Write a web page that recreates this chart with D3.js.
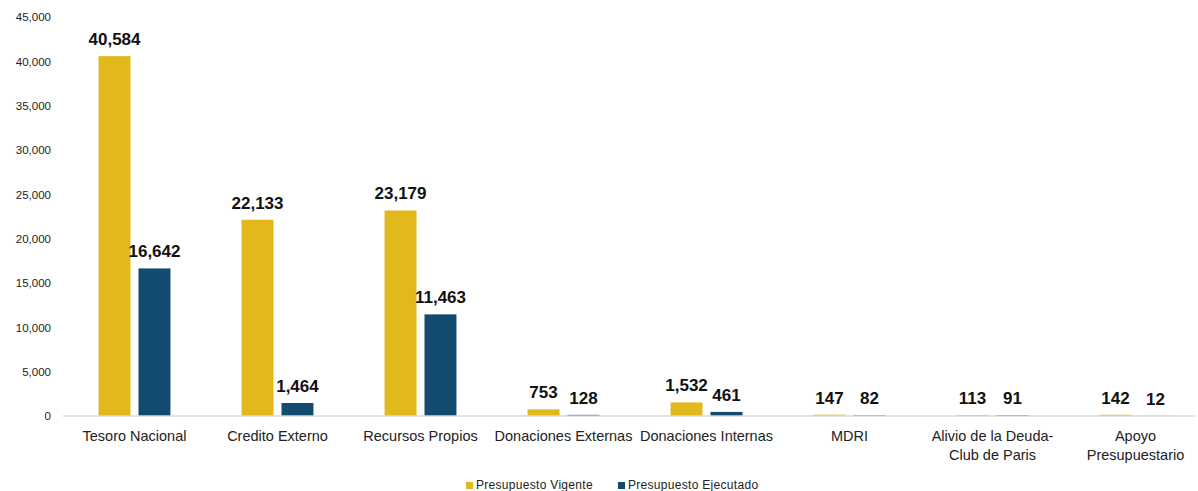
<!DOCTYPE html>
<html>
<head>
<meta charset="utf-8">
<script src="https://cdn.jsdelivr.net/npm/d3@7"></script>
<style>
  body { margin: 0; background: #fff; }
  text { font-family: "Liberation Sans", Arial, sans-serif; }
</style>
</head>
<body>
<div id="chart"></div>
<script>
// data
var categories = ["Tesoro Nacional", "Credito Externo", "Recursos Propios", "Donaciones Externas",
                  "Donaciones Internas", "MDRI", "Alivio de la Deuda-\nClub de Paris", "Apoyo\nPresupuestario"]
var series = ["Presupuesto Vigente", "Presupuesto Ejecutado"]
var vigente = [40584, 22133, 23179, 753, 1532, 147, 113, 142]
var ejecutado = [16642, 1464, 11463, 128, 461, 82, 91, 12]
var yTicks = [0, 5000, 10000, 15000, 20000, 25000, 30000, 35000, 40000, 45000]
var colors = ["#E1B91C", "#124B6E"]

var width = 1198, height = 491
var margins = {top: 17, right: 3, bottom: 75, left: 63}

var svg = d3.select("#chart").append("svg")
            .attr("width", width)
            .attr("height", height)

// category bands run a little past the right edge, like the original
var scalex = d3.scaleBand()
               .domain(categories)
               .range([margins.left, margins.left + 8 * 143])

var inner = d3.scaleBand()
              .domain(series)
              .range([0, scalex.bandwidth()])
              .paddingInner(0.2)
              .paddingOuter(0.89)

var scaley = d3.scaleLinear()
               .domain([0, 45000])
               .range([height - margins.bottom, margins.top])

var fmt = d3.format(",")

// y axis, no line, only labels
var yaxis = svg.append("g")
   .attr("transform", "translate(" + margins.left + ",0)")
   .call(d3.axisLeft(scaley).tickValues(yTicks).tickFormat(fmt).tickSize(0).tickPadding(12))
yaxis.select(".domain").remove()
yaxis.selectAll("text").attr("font-size", "11.5px").attr("fill", "#222")
     .style("font-family", "Liberation Sans, Arial, sans-serif")

var rows = categories.map(function (c, i) {
   return {cat: c, values: [vigente[i], ejecutado[i]]}
})

var groups = svg.selectAll("g.cat").data(rows)
   .enter().append("g")
   .attr("class", "cat")
   .attr("transform", function (d) { return "translate(" + scalex(d.cat) + ",0)" })

groups.selectAll("rect").data(function (d) {
      return d.values.map(function (v, j) { return {s: series[j], v: v, j: j} })
   })
   .enter().append("rect")
   .attr("x", function (d) { return inner(d.s) })
   .attr("width", inner.bandwidth())
   .attr("y", function (d) { return scaley(d.v) })
   .attr("height", function (d) { return scaley(0) - scaley(d.v) })
   .attr("fill", function (d) { return colors[d.j] })

groups.selectAll("text.val").data(function (d) {
      return d.values.map(function (v, j) { return {s: series[j], v: v} })
   })
   .enter().append("text")
   .attr("class", "val")
   .attr("x", function (d) { return inner(d.s) + inner.bandwidth() / 2 })
   .attr("y", function (d) { return scaley(d.v) - 11 })
   .attr("text-anchor", "middle")
   .attr("font-size", "17px")
   .attr("font-weight", "bold")
   .attr("fill", "#111")
   .text(function (d) { return fmt(d.v) })

// baseline
svg.append("line")
   .attr("x1", margins.left).attr("x2", width - margins.right)
   .attr("y1", scaley(0)).attr("y2", scaley(0))
   .attr("stroke", "#d9d9d9")
   .attr("stroke-width", 1.5)

// category labels, split on line breaks
var labels = svg.selectAll("text.cat").data(categories)
   .enter().append("text")
   .attr("class", "cat")
   .attr("text-anchor", "middle")
   .attr("font-size", "14.5px")
   .attr("fill", "#222")
labels.selectAll("tspan").data(function (d) {
      return d.split("\n").map(function (t) { return {t: t, c: d} })
   })
   .enter().append("tspan")
   .attr("x", function (d) { return scalex(d.c) + scalex.bandwidth() / 2 })
   .attr("y", function (d, i) { return scaley(0) + 25 + i * 19 })
   .text(function (d) { return d.t })

// legend
var legendX = [466, 618]
var legend = svg.selectAll("g.legend").data(series)
   .enter().append("g")
   .attr("class", "legend")
   .attr("transform", function (d, i) { return "translate(" + legendX[i] + ",482)" })
legend.append("rect")
   .attr("width", 7).attr("height", 7)
   .attr("fill", function (d, i) { return colors[i] })
legend.append("text")
   .attr("x", 10).attr("y", 7)
   .attr("font-size", "12px")
   .attr("letter-spacing", "0.3px")
   .attr("fill", "#222")
   .text(function (d) { return d })
</script>
</body>
</html>
